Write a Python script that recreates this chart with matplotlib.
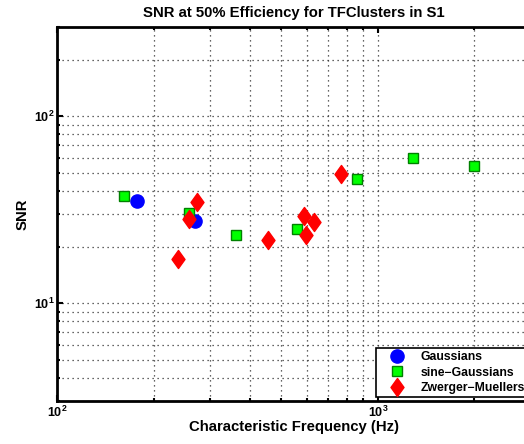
import numpy as np
import matplotlib
matplotlib.use("Agg")
import matplotlib.pyplot as plt
from matplotlib.path import Path

plt.rcParams['font.family'] = ['Liberation Sans', 'DejaVu Sans']
plt.rcParams['font.weight'] = 'bold'

# Datos
gauss_f = [177, 269]
gauss_snr = [35.1, 27.5]

sg_f = [162, 257, 360, 558, 860, 1285, 1986]
sg_snr = [37.4, 30.5, 23.1, 24.9, 45.9, 60.1, 54.0]

zm_f = [274, 258, 239, 453, 590, 633, 598, 765]
zm_snr = [34.9, 28.2, 17.3, 21.7, 29.3, 27.1, 23.3, 49.1]

# Rombo estilo MATLAB (más alto que ancho)
diamond = Path([(0, 1), (0.72, 0), (0, -1), (-0.72, 0), (0, 1)],
               [Path.MOVETO, Path.LINETO, Path.LINETO, Path.LINETO, Path.CLOSEPOLY])

fig = plt.figure(figsize=(5.24, 4.44), dpi=100)
ax = fig.add_axes([57 / 524, 43 / 444, 474 / 524, 374 / 444])

ax.plot(gauss_f, gauss_snr, 'o', color='blue', markersize=9.5,
        markeredgecolor='blue', label='Gaussians', zorder=3)
ax.plot(sg_f, sg_snr, 's', color='#00ff00', markersize=7.5,
        markeredgecolor='#008000', markeredgewidth=1.0, label='sine\u2212Gaussians', zorder=3)
ax.plot(zm_f, zm_snr, linestyle='none', marker=diamond, color='red', markersize=13,
        markeredgecolor='red', label='Zwerger\u2212Muellers', zorder=4)

ax.set_xscale('log')
ax.set_yscale('log')
ax.set_xlim(100, 3000)
ax.set_ylim(3, 300)

ax.grid(True, which='both', linestyle=(0, (1, 3)), color='#333333', linewidth=0.9)
ax.tick_params(which='both', direction='in', top=True, right=True, labelsize=9, width=1.5)
ax.tick_params(which='major', length=4)
ax.tick_params(which='minor', length=2)
ax.tick_params(axis='y', which='major', pad=1.5)
ax.tick_params(axis='x', which='major', pad=3)
ax.yaxis.set_minor_formatter(plt.NullFormatter())
ax.xaxis.set_minor_formatter(plt.NullFormatter())
for s in ax.spines.values():
    s.set_linewidth(2)

ax.set_title('SNR at 50% Efficiency for TFClusters in S1', fontsize=10.7, fontweight='bold', pad=7)
ax.set_xlabel('Characteristic Frequency (Hz)', fontsize=10.7, fontweight='bold', labelpad=0)
ax.set_ylabel('SNR', fontsize=10.7, fontweight='bold', labelpad=3)

leg = ax.legend(loc='lower right', bbox_to_anchor=(1.002, 0.0), fontsize=8.8, frameon=True,
                fancybox=False, edgecolor='black', framealpha=1, borderpad=0.25,
                labelspacing=0.3, handletextpad=0.5, handlelength=2.9, borderaxespad=0.3)
leg.get_frame().set_linewidth(1.2)
for t in leg.get_texts():
    t.set_fontweight('bold')

fig.savefig('out.png', dpi=100)
